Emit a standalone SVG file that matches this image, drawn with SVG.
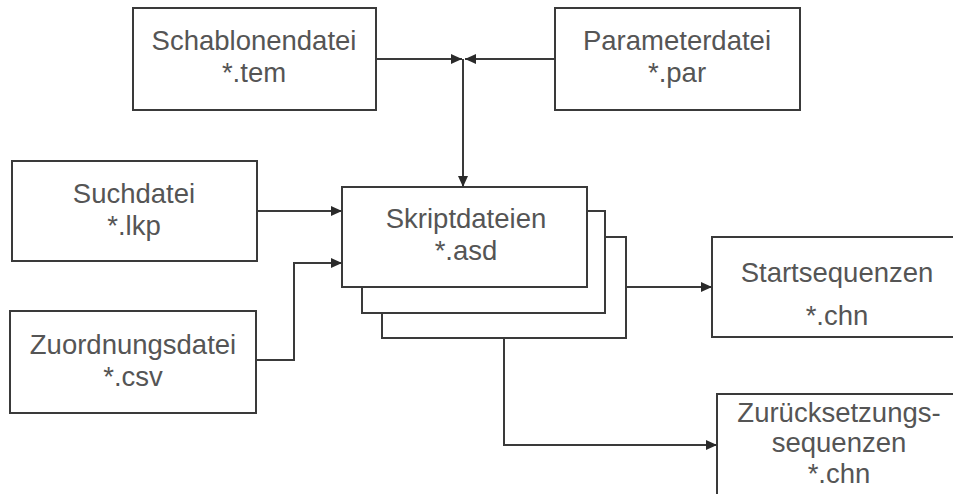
<svg xmlns="http://www.w3.org/2000/svg" width="953" height="494" viewBox="0 0 953 494">
<defs>
<style>
.box{fill:#fff;stroke:#3a3a3a;stroke-width:2}
.t{font-family:"Liberation Sans",Arial,sans-serif;font-size:27.5px;fill:#555;text-anchor:middle}
.c{fill:none;stroke:#3a3a3a;stroke-width:2}
</style>
<marker id="ah" markerUnits="userSpaceOnUse" markerWidth="11" markerHeight="10" refX="11" refY="5" orient="auto" viewBox="0 0 11 10">
<path d="M0,0 L11,5 L0,10 z" fill="#2a2a2a"/>
</marker>
</defs>
<rect width="953" height="494" fill="#fff"/>
<g id="schablonendatei">
<rect class="box" x="133" y="8" width="243" height="102"/>
<text class="t" x="254" y="50">Schablonendatei</text>
<text class="t" x="254" y="82">*.tem</text>
</g>
<g id="parameterdatei">
<rect class="box" x="555" y="8" width="245" height="102"/>
<text class="t" x="677" y="50">Parameterdatei</text>
<text class="t" x="677" y="82">*.par</text>
</g>
<g id="suchdatei">
<rect class="box" x="12" y="161" width="245" height="100"/>
<text class="t" x="134" y="203">Suchdatei</text>
<text class="t" x="134" y="235">*.lkp</text>
</g>
<g id="zuordnungsdatei">
<rect class="box" x="10" y="311" width="246" height="102"/>
<text class="t" x="133" y="354">Zuordnungsdatei</text>
<text class="t" x="133" y="386">*.csv</text>
</g>
<g id="skriptdateien">
<rect class="box" x="382" y="237" width="244" height="101"/>
<rect class="box" x="362" y="211" width="243" height="102"/>
<rect class="box" x="342" y="187" width="245" height="100"/>
<text class="t" x="466" y="228">Skriptdateien</text>
<text class="t" x="466" y="260">*.asd</text>
</g>
<g id="startsequenzen">
<rect class="box" x="712" y="237" width="250" height="100"/>
<text class="t" x="837" y="282">Startsequenzen</text>
<text class="t" x="837" y="325">*.chn</text>
</g>
<g id="zuruecksetzungssequenzen">
<rect class="box" x="717" y="394" width="250" height="110"/>
<text class="t" x="839" y="422">Zurücksetzungs-</text>
<text class="t" x="839" y="452">sequenzen</text>
<text class="t" x="839" y="483">*.chn</text>
</g>
<g id="connectors">
<path class="c" d="M376,59 H462" marker-end="url(#ah)"/>
<path class="c" d="M555,59 H465" marker-end="url(#ah)"/>
<path class="c" d="M463,59 V187" marker-end="url(#ah)"/>
<path class="c" d="M257,211 H342" marker-end="url(#ah)"/>
<path class="c" d="M256,360 H294 V263 H342" marker-end="url(#ah)"/>
<path class="c" d="M626,287 H712" marker-end="url(#ah)"/>
<path class="c" d="M504,338 V445 H717" marker-end="url(#ah)"/>
</g>
</svg>
